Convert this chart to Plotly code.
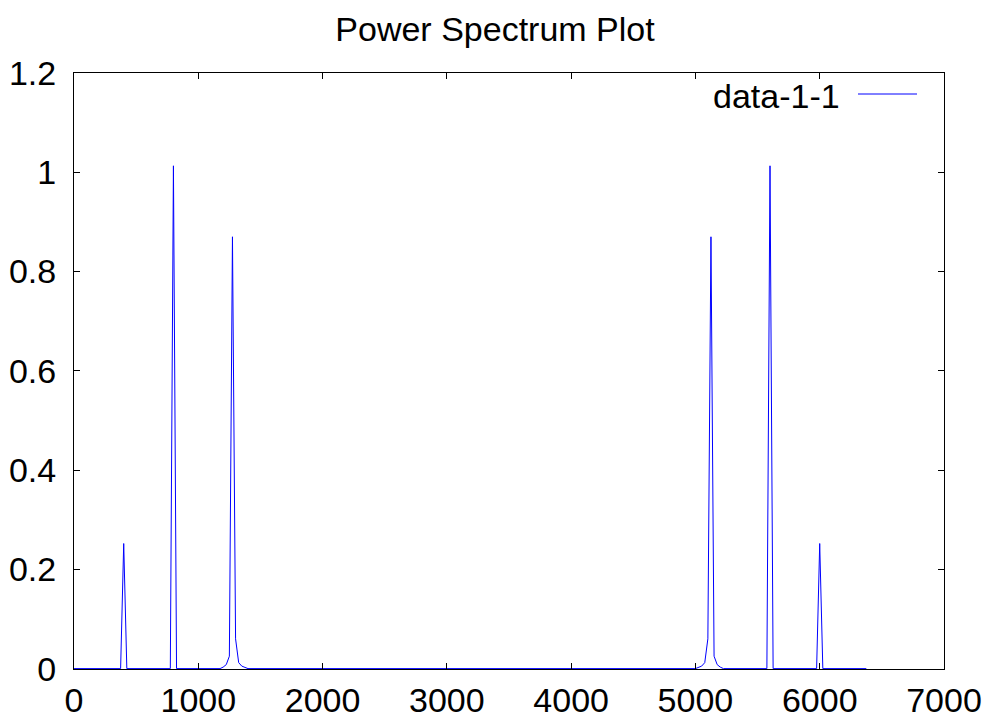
import plotly.graph_objects as go

# Frequency bins (Hz) and power values; long zero runs are
# represented by their end points only.
freq = [0, 375, 400, 425,
        775, 800, 825,
        1175, 1200, 1225, 1250, 1275, 1300, 1325, 1350, 1375, 1400,
        5000, 5025, 5050, 5075, 5100, 5125, 5150, 5175, 5200, 5225,
        5575, 5600, 5625,
        5975, 6000, 6025, 6375]
power = [0, 0, 0.252, 0,
         0, 1.013, 0,
         0, 0.003, 0.008, 0.025, 0.870, 0.060, 0.012, 0.005, 0.002, 0,
         0, 0.002, 0.005, 0.012, 0.060, 0.870, 0.025, 0.008, 0.003, 0,
         0, 1.013, 0,
         0, 0.252, 0, 0]

series_name = "data-1-1"
title_text = "Power Spectrum Plot"
x_range = [0, 7000]
y_range = [-0.0008, 1.2]

FONT = "Liberation Sans, Arial, sans-serif"
FS = 34

fig = go.Figure()
fig.add_trace(go.Scatter(x=freq, y=power, mode="lines", name=series_name,
                         line=dict(color="#0000ff", width=1), showlegend=False))

axis_common = dict(showline=True, linecolor="black", linewidth=1, mirror="ticks",
                   ticks="inside", ticklen=6, tickcolor="black", tickwidth=1,
                   showgrid=False, zeroline=False, automargin=False,
                   tickfont=dict(family=FONT, size=FS, color="black"))

fig.update_xaxes(range=x_range, dtick=1000, tick0=0, ticklabelstandoff=1, **axis_common)
fig.update_yaxes(range=y_range, dtick=0.2, tick0=0, ticklabelstandoff=10, **axis_common)

fig.update_layout(
    width=990, height=713,
    margin=dict(l=74, r=46, t=73, b=44, pad=0),
    paper_bgcolor="white", plot_bgcolor="white",
    title=dict(text=title_text, x=0.5, xanchor="center", y=0.959, yanchor="middle",
               font=dict(family=FONT, size=FS, color="black")),
)

# gnuplot-style key: label on the left, line sample on the right
fig.add_annotation(xref="paper", yref="paper", x=(842 - 74) / 870, y=(669 - 96) / 596,
                   xanchor="right", yanchor="middle", showarrow=False,
                   text=series_name, font=dict(family=FONT, size=FS, color="black"))
fig.add_shape(type="line", xref="paper", yref="paper",
              x0=(858 - 74) / 870, x1=(917 - 74) / 870,
              y0=(669 - 94) / 596, y1=(669 - 94) / 596,
              line=dict(color="#0000ff", width=1))

fig.write_html("out.html", config={"displayModeBar": False},
               post_script="document.body.style.margin='0';")
